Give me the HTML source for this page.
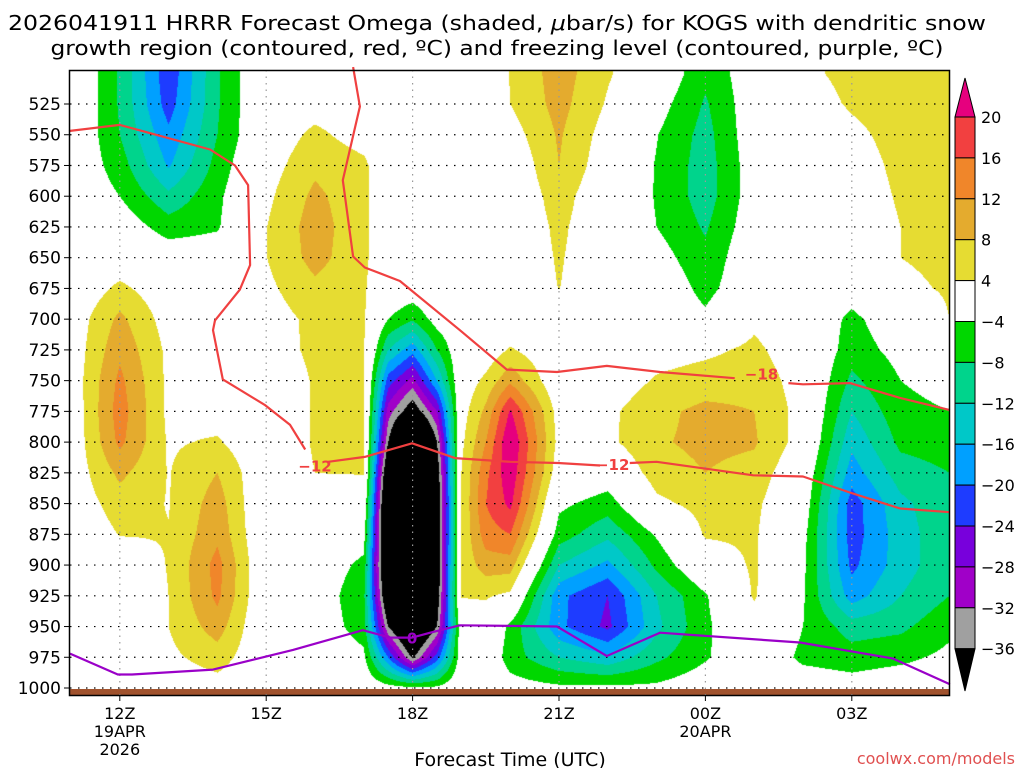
<!DOCTYPE html>
<html><head><meta charset="utf-8">
<style>
html,body{margin:0;padding:0;background:#fff;width:1024px;height:768px;overflow:hidden}
#wrap{position:relative;width:1024px;height:768px}
canvas{position:absolute;left:70px;top:70px}
svg{position:absolute;left:0;top:0}
text{font-family:"DejaVu Sans","Liberation Sans",sans-serif}
</style></head>
<body>
<div id="wrap">
<canvas id="shade" width="879" height="625"></canvas>
<svg id="svg" width="1024" height="768"></svg>
</div>
<script>
// ---- data ----
const times = [11,12,13,14,15,16,17,17.5,18,18.5,19,19.5,20,21,22,23,24,25,26,27,28,29];
const levels = [500,525,550,575,600,625,650,675,700,725,750,775,800,825,850,875,900,925,950,975,1000];
const omegaByTime = [
 [1.5,1.5,1,0,0,0,0,0,1,1,1,0.5,0.5,1,1,0,0,0,0,0,0],
 [-8.5,-8.5,-8,-6,-4,-1,1,5,9,11,13,14,13,9,6,4.2,1,0,0,0,0],
 [-23,-22,-19,-16.5,-11,-6,-1,1,2,3,3,3,3.5,3.8,3.8,4.2,4.2,4,4,3,1],
 [-8.5,-8.5,-8,-6.5,-5,-4.5,-1,0,0,0,1,2,4.5,8,10,11,13.5,13,10,6,2],
 [1.3,1.3,1,2,3,3.9,3.9,3,2,1.7,0,0,0,0,-1,-1,-1,-1,-1,0,0],
 [0,2,5,7,9,10,9.5,7,5,5,4.5,4.5,4.5,4,2,0,-1,-1,-1,0,0],
 [0,1,2,5,5,5,5,4.5,4.5,4.3,4.2,4.2,4.2,4.2,1,-2,-5,-7,-6,-3,0],
 [0,0,0,0,0,0,0,0,-4,-12,-22,-30,-36,-45,-50,-50,-50,-45,-36,-20,-2],
 [0,0,0,0,0,0,0,-1,-7.5,-18.5,-29.5,-40,-60,-65,-65,-65,-65,-62,-50,-37,-3],
 [0,0,0,0,0,0,0,1,-2,-8,-16,-28,-36,-40,-42,-42,-42,-40,-36,-22,-3],
 [0,0,0,0,0,0,0,0,0,0,1,2,3,4,4.2,4.5,5,4.3,0,-1,0],
 [0,0,0,0,0,0,0,0,0,1,5,9,12,15,16,14,10,4.5,1,0,0],
 [4.2,4,2,0,0,0,0,0,0,4.5,11,20.5,24,23,21,16,10,3,-5,-6,-2],
 [10,9.5,8.5,8,6,5,4.5,4.1,1,0,0,2,2.5,1,-3,-6,-12,-19,-19,-12,-3],
 [4.5,3.5,2,1,0,0,0,0,0,0,1,3,3,-1,-6,-11,-17,-24,-25,-15,-3],
 [0,-2,-3.8,-4.3,-4.3,-4,-2,0,0,2,4.5,7,7.5,6,3,-3.5,-7,-12,-13,-9,-3],
 [-7,-8.5,-9.5,-10,-10,-8.5,-7,-5.5,-3,3,6,9,9,8,5.5,4.5,1,-4.5,-5,-4.5,-1],
 [-1,-1,-1,-1.5,-1.5,-1,0,0,3,5,6.5,8,8.5,6.5,5,4.6,4.6,4.5,2,0,0],
 [3.2,2,0,0,0,0,0,0,0,1,2,2.3,2,0,-1,-2.5,-3,-3.5,-4,-5,-1],
 [5,4.5,3,2,1.5,1,0.5,-2,-5,-6,-9,-12,-15,-18,-22,-22,-21,-18,-10,-6,-2],
 [6,6,5.5,5,4.5,4,4,3,-1,-2.5,-4,-5.5,-7,-10,-13,-14,-14,-12,-9,-5,-1],
 [6,6,6,6,6,6,5,4.5,4,2,-2,-4,-6,-8,-9,-9,-9,-8,-5,-3,-1]
];
// contour lines (hour, pressure)
const t12Hours = [10.96,12.0,13.85,14.36,14.63,14.67,14.46,13.95,13.91,14.11,14.98,15.49,15.80];
const t12Press = [547,542,562,575,591,656,676,701,709,749,770,786,806];
const t12bHours = [16.27,17.02,17.99,18.87,20.0,20.98,21.84];
const t12bPress = [816,812,801,813,816,817,819];
const t12cHours = [22.45,23.0,24.98,26.0,26.96,27.99,29.01];
const t12cPress = [817,816,827,828,841,854,857];
const t18Hours = [16.78,16.92,16.57,16.78,17.02,17.74,18.97,19.93,20.96,21.98,23.07,24.6];
const t18Press = [495,527,587,649,658,669,709,741,743,738,743,748];
const t18bHours = [25.7,26.0,26.96,27.99,29.01];
const t18bPress = [752,753,752,764,774];
const frzHours = [10.98,11.96,12.25,13.91,15.55,16.98,17.54,17.99,18.36,18.97,20.96,21.98,23.07,25.94,27.84,29.01];
const frzPress = [972,989,989,985,969,953,959,959,955,949,950,974,955,963,976,997];
const yTickLabels = ["525","550","575","600","625","650","675","700","725","750","775","800","825","850","875","900","925","950","975","1000"];
const yTickValues = [525,550,575,600,625,650,675,700,725,750,775,800,825,850,875,900,925,950,975,1000];
const xTickHours = [12,15,18,21,24,27];
const xTickLabels = ["12Z","15Z","18Z","21Z","00Z","03Z"];
const cbLabels = ["20","16","12","8","4","\u22124","\u22128","\u221212","\u221216","\u221220","\u221224","\u221228","\u221232","\u221236"];
const cbColors = ["#f24040","#f0862a","#e4ab2e","#e6dc32","#ffffff","#00d700","#00d48c","#00c8c8","#00a0ff","#1e3cff","#7800dc","#a000c8","#a0a0a0"];

// ---- axes ----
function xOf(h){return 71+(h-11)*48.8;}
function yOf(p){return 104+(p-525)*1.2295;}
function colorOf(v){
  if(v>=20) return [230,0,126];
  if(v>=16) return [242,64,64];
  if(v>=12) return [240,134,42];
  if(v>=8) return [228,171,46];
  if(v>=4) return [230,220,50];
  if(v>-4) return [255,255,255];
  if(v>-8) return [0,215,0];
  if(v>-12) return [0,212,140];
  if(v>-16) return [0,200,200];
  if(v>-20) return [0,160,255];
  if(v>-24) return [30,60,255];
  if(v>-28) return [120,0,220];
  if(v>-32) return [160,0,200];
  if(v>-36) return [160,160,160];
  return [0,0,0];
}
// ---- shading ----
(function(){
  const cv=document.getElementById('shade'),ctx=cv.getContext('2d');
  const W=cv.width,H=cv.height,img=ctx.createImageData(W,H),d=img.data;
  for(let py=0;py<H;py++){
    const Y=70+py+0.5;
    let p=525+(Y-104)/1.2295;
    let fj=(p-levels[0])/25; if(fj<0)fj=0; if(fj>levels.length-1)fj=levels.length-1;
    let j=Math.min(Math.floor(fj),levels.length-2), tj=fj-j;
    for(let px=0;px<W;px++){
      const X=70+px+0.5;
      let h=11+(X-71)/48.8;
      if(h<times[0])h=times[0]; if(h>times[times.length-1])h=times[times.length-1];
      let i=0; while(i<times.length-2 && times[i+1]<h) i++;
      const ti=(h-times[i])/(times[i+1]-times[i]);
      const a=omegaByTime[i],b=omegaByTime[i+1];
      const v=(a[j]*(1-tj)+a[j+1]*tj)*(1-ti)+(b[j]*(1-tj)+b[j+1]*tj)*ti;
      const c=colorOf(v),k=(py*W+px)*4;
      d[k]=c[0];d[k+1]=c[1];d[k+2]=c[2];d[k+3]=255;
    }
  }
  ctx.putImageData(img,0,0);
})();
// ---- svg ----
const NS="http://www.w3.org/2000/svg";
const svg=document.getElementById('svg');
function mk(tag,attrs,parent){const e=document.createElementNS(NS,tag);for(const k in attrs)e.setAttribute(k,attrs[k]);(parent||svg).appendChild(e);return e;}
// ground strip
let g=mk('rect',{x:70,y:689,width:879,height:6,fill:'#a0522d'});


// gridlines
yTickValues.forEach((p,k)=>{
  const y=yOf(p);
  const l=mk('line',{x1:70,x2:949,y1:y,y2:y,stroke:'#000','stroke-width':1.2,'stroke-dasharray':'1.5 6.5'});
  
  
  const tk=mk('line',{x1:64,x2:70,y1:y,y2:y,stroke:'#000','stroke-width':1});
  
  
  const t=mk('text',{x:61,y:y+6,'text-anchor':'end','font-size':17,fill:'#000'});
  t.textContent=yTickLabels[k];
  
  
});
xTickHours.forEach((h,k)=>{
  const x=xOf(h);
  const l=mk('line',{x1:x,x2:x,y1:70,y2:695,stroke:'#999','stroke-width':1.2,'stroke-dasharray':'1.5 5'});
  
  
  const tk=mk('line',{x1:x,x2:x,y1:695,y2:701,stroke:'#000','stroke-width':1});
  
  
  const t=mk('text',{x:x,y:719,'text-anchor':'middle','font-size':16,fill:'#000'});
  t.textContent=xTickLabels[k];
  
  
});
function txt(s,x,y,size,name,anchor,fill){
  const t=mk('text',{x:x,y:y,'text-anchor':anchor||'middle','font-size':size,fill:fill||'#000'});
  t.textContent=s;return t;}
txt('19APR',xOf(12),737,16,'date-label-19apr');
txt('2026',xOf(12),755,16,'year-label');
txt('20APR',xOf(24),737,16,'date-label-20apr');
// contour lines
function line(hs,ps,color,name){
  const pts=hs.map((h,i)=>xOf(h).toFixed(1)+','+yOf(ps[i]).toFixed(1)).join(' ');
  const e=mk('polyline',{points:pts,fill:'none',stroke:color,'stroke-width':2.2,'stroke-linejoin':'round'});
  
}
line(t12Hours,t12Press,'#f04040','contour-minus12-a');
line(t12bHours,t12bPress,'#f04040','contour-minus12-b');
line(t12cHours,t12cPress,'#f04040','contour-minus12-c');
line(t18Hours,t18Press,'#f04040','contour-minus18-a');
line(t18bHours,t18bPress,'#f04040','contour-minus18-b');
line(frzHours,frzPress,'#9a00c8','freezing-level-line');
function clabel(s,h,p,color,name){
  const t=mk('text',{x:xOf(h),y:yOf(p)+6,'text-anchor':'middle','font-size':15,'font-weight':'bold',fill:color});
  t.textContent=s;}
clabel('\u221212',16.0,819,'#f04040','contour-label-minus12-left');
clabel('\u221212',22.1,818,'#f04040','contour-label-minus12-right');
clabel('\u221218',25.15,744,'#f04040','contour-label-minus18');
clabel('0',17.99,959,'#9a00c8','contour-label-0');
// frame
let fr=mk('rect',{x:69.5,y:70.5,width:880,height:625,fill:'none',stroke:'#000','stroke-width':1.5});


// title
let t1=mk('text',{x:497,y:30,'text-anchor':'middle','font-size':20,textLength:978,lengthAdjust:'spacingAndGlyphs'});
t1.innerHTML='2026041911 HRRR Forecast Omega (shaded, <tspan font-style="italic">\u03bc</tspan>bar/s) for KOGS with dendritic snow';


let t2=mk('text',{x:497,y:55,'text-anchor':'middle','font-size':20,textLength:893,lengthAdjust:'spacingAndGlyphs'});
t2.textContent='growth region (contoured, red, \u00baC) and freezing level (contoured, purple, \u00baC)';


txt('Forecast Time (UTC)',510,766,19,'x-axis-title');
txt('coolwx.com/models',1015,764,16,'credit-text','end','#e05050');
// colorbar
const cbX=955,cbW=20,cbTop=117,cbStep=40.9;
let tri=mk('polygon',{points:`${cbX},${cbTop} ${cbX+cbW},${cbTop} ${cbX+cbW/2},78`,fill:'#e6007e',stroke:'#000','stroke-width':1});


cbColors.forEach((c,k)=>{
  const r=mk('rect',{x:cbX,y:cbTop+k*cbStep,width:cbW,height:cbStep,fill:c,stroke:'#000','stroke-width':1});
  
  
});
let tri2=mk('polygon',{points:`${cbX},${cbTop+13*cbStep} ${cbX+cbW},${cbTop+13*cbStep} ${cbX+cbW/2},691`,fill:'#000',stroke:'#000','stroke-width':1});


cbLabels.forEach((s,k)=>{
  const t=mk('text',{x:981,y:cbTop+k*cbStep+6,'font-size':16,fill:'#000'});
  t.textContent=s;
  
  
});
</script>
</body></html>
